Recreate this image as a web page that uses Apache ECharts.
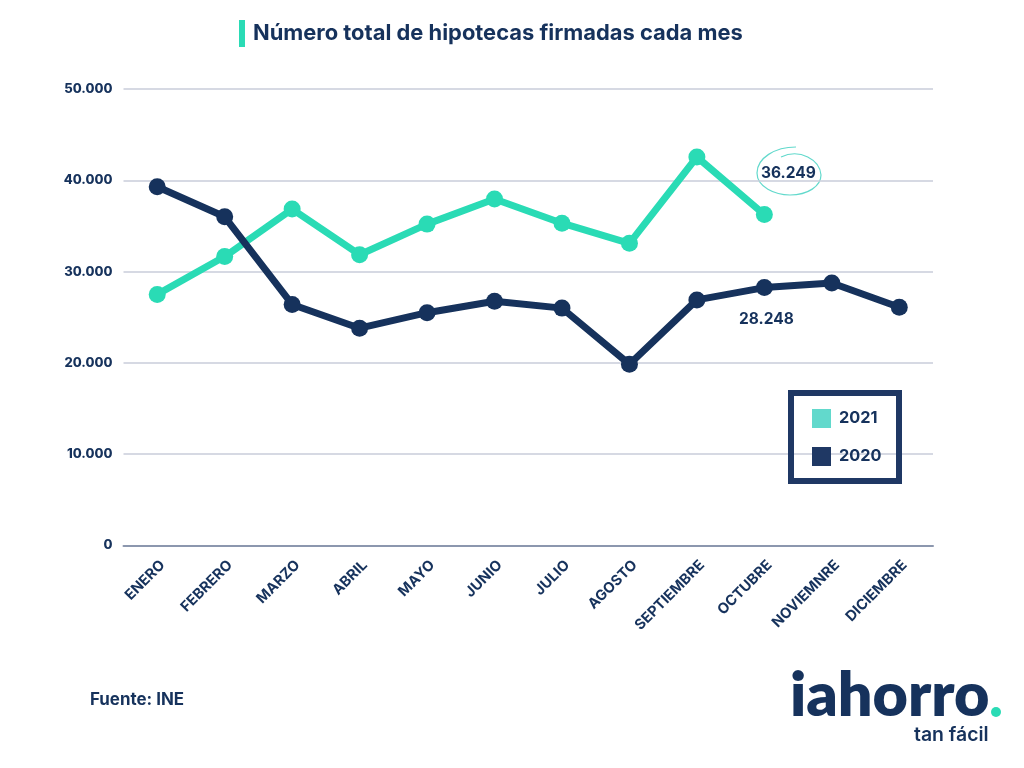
<!DOCTYPE html>
<html>
<head>
<meta charset="utf-8">
<script src="https://cdn.jsdelivr.net/npm/echarts@6/dist/echarts.min.js"></script>
<style>
html,body{margin:0;padding:0;background:#fff;}
#chart{width:1024px;height:768px;}
</style>
</head>
<body>
<div id="chart"></div>
<script>
var months = ['ENERO','FEBRERO','MARZO','ABRIL','MAYO','JUNIO','JULIO','AGOSTO','SEPTIEMBRE','OCTUBRE','NOVIEMNRE','DICIEMBRE'];
var values2021 = [27500,31650,36850,31850,35200,37950,35300,33100,42550,36249];
var values2020 = [39300,36000,26400,23800,25500,26750,26000,19850,26900,28248,28750,26100];
var seriesNames = ['2021','2020'];
var labelIndex = 9;

var navy = '#16325c';
var green = '#2adbb5';
var font = 'Inter';

function fmt(v){
	return String(v).replace(/\B(?=(\d{3})+$)/g,'.');
}

function withLabel(values,label){
	return values.map(function(v,i){
		return i==labelIndex ? {value:v,label:label} : v;
	});
}

var myChart = echarts.init(document.getElementById('chart'));
var option = {
	animation:false,
	backgroundColor:'#fff',
	textStyle:{fontFamily:font},
	grid:{left:123.5,right:91,top:89,height:456.5,containLabel:false},
	legend:{
		left:807,top:404,orient:'vertical',selectedMode:false,
		itemWidth:19,itemHeight:19,itemGap:19,
		icon:'rect',
		textStyle:{color:navy,fontSize:16.3,fontWeight:700,fontFamily:font,padding:[0,0,0,3]},
		data:[
			{name:seriesNames[0],itemStyle:{color:'#62d9cc'}},
			{name:seriesNames[1],itemStyle:{color:'#1f3864'}}
		]
	},
	xAxis:{
		type:'category',data:months,boundaryGap:true,
		axisTick:{show:false},
		axisLine:{lineStyle:{color:'#8c97ae',width:2}},
		axisLabel:{rotate:45,interval:0,margin:12,verticalAlign:'top',color:navy,fontSize:14.5,fontWeight:700,fontFamily:font}
	},
	yAxis:{
		type:'value',min:0,max:50000,interval:10000,
		axisLine:{show:false},axisTick:{show:false},
		splitLine:{lineStyle:{color:'#c9cdda',width:1.5}},
		axisLabel:{margin:11,color:navy,fontSize:13,fontWeight:800,fontFamily:font,formatter:fmt}
	},
	series:[
		{
			name:seriesNames[0],type:'line',symbol:'circle',symbolSize:17,
			lineStyle:{color:green,width:7},itemStyle:{color:green},
			data:withLabel(values2021,{show:true,position:'top',offset:[24,-15],distance:10,color:navy,fontSize:15.5,fontWeight:700,fontFamily:font,formatter:function(p){return fmt(p.value);}})
		},
		{
			name:seriesNames[1],type:'line',symbol:'circle',symbolSize:17,
			lineStyle:{color:navy,width:7},itemStyle:{color:navy},
			data:withLabel(values2020,{show:true,position:'bottom',offset:[2,1],distance:14,color:navy,fontSize:15.5,fontWeight:700,fontFamily:font,formatter:function(p){return fmt(p.value);}})
		}
	],
	graphic:[
		{type:'rect',left:239,top:20,shape:{width:6,height:27},style:{fill:green}},
		{type:'text',left:253,top:22,style:{text:'Número total de hipotecas firmadas cada mes',fill:navy,font:'700 21.9px '+font}},
		{type:'rect',z:5,shape:{x:791,y:393,width:108,height:88},style:{fill:'none',stroke:'#1f3864',lineWidth:6}},
		// trazo a mano alrededor del 36.249
		{type:'bezierCurve',shape:{x1:796,y1:147,cpx1:775,cpy1:147,cpx2:757,cpy2:158,x2:757,y2:173},style:{fill:'none',stroke:'#62d9cc',lineWidth:1.2}},
		{type:'bezierCurve',shape:{x1:757,y1:173,cpx1:757,cpy1:187,cpx2:775,cpy2:195,x2:790,y2:195},style:{fill:'none',stroke:'#62d9cc',lineWidth:1.2}},
		{type:'bezierCurve',shape:{x1:790,y1:195,cpx1:808,cpy1:195,cpx2:821,cpy2:186,x2:821,y2:175},style:{fill:'none',stroke:'#62d9cc',lineWidth:1.2}},
		{type:'bezierCurve',shape:{x1:821,y1:175,cpx1:820,cpy1:160,cpx2:800,cpy2:148,x2:781,y2:157},style:{fill:'none',stroke:'#62d9cc',lineWidth:1.2}},
		{type:'text',left:90,top:691,style:{text:'Fuente: INE',fill:navy,font:'700 16.9px '+font}},
		{type:'text',left:790,top:666,style:{text:'iahorro',fill:navy,font:'800 61px Lato'}},
		{type:'circle',shape:{cx:996,cy:712,r:5},style:{fill:green}},
		{type:'text',left:914,top:726,style:{text:'tan fácil',fill:navy,font:'600 19.4px '+font}}
	]
};
myChart.setOption(option);
</script>
</body>
</html>
